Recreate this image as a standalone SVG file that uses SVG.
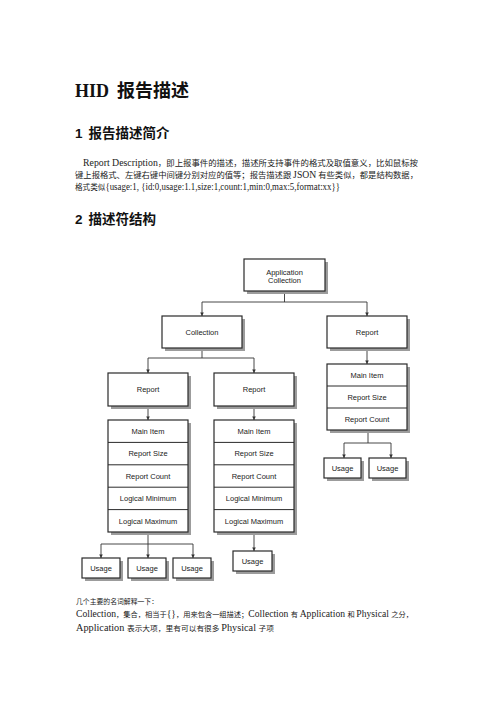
<svg xmlns="http://www.w3.org/2000/svg" width="496" height="702" viewBox="0 0 496 702">
<style>
.bg{fill:#ffffff}
.sh{fill:#9c9c9c}
.bx{fill:#ffffff;stroke:#2a2a2a;stroke-width:1.2}
.dv{stroke:#2a2a2a;stroke-width:1}
.lb{font-family:"Liberation Sans",Arial,sans-serif;font-size:7.5px;fill:#222;text-anchor:middle}
.cn{fill:none;stroke:#333;stroke-width:0.9}
.lat{font-family:"Liberation Serif","Times New Roman",serif}
.cjk{font-family:"Noto Sans CJK SC","Liberation Serif",serif}
.body{fill:#222}
.hd{font-family:"Liberation Sans","Noto Sans CJK SC",sans-serif;font-weight:bold;fill:#111}
</style>
<defs>
<marker id="ar" viewBox="0 0 6 6" refX="6" refY="3" markerWidth="4" markerHeight="4" orient="auto">
<path d="M0,0 L6,3 L0,6 z" fill="#333"/>
</marker>
</defs>
<rect class="bg" x="0" y="0" width="496" height="702"/>

<g id="title">
<text x="75" y="97" class="hd" font-size="18"><tspan class="lat" font-family="Liberation Serif,serif">HID</tspan><tspan font-family="Noto Sans CJK SC,sans-serif" dx="8">报告描述</tspan></text>
</g>
<g id="heading1">
<text x="75" y="137.5" class="hd" font-size="13.5"><tspan font-family="Liberation Sans,sans-serif">1</tspan><tspan font-family="Noto Sans CJK SC,sans-serif" dx="6">报告描述简介</tspan></text>
</g>
<g id="para1" class="body">
<text x="83" y="166" textLength="335" lengthAdjust="spacingAndGlyphs"><tspan class="lat" font-size="9.7">Report Description</tspan><tspan class="cjk" font-size="8.3">，即上报事件的描述，描述所支持事件的格式及取值意义，比如鼠标按</tspan></text>
<text x="75" y="178" textLength="343" lengthAdjust="spacingAndGlyphs"><tspan class="cjk" font-size="8.3">键上报格式、左键右键中间键分别对应的值等；报告描述跟 </tspan><tspan class="lat" font-size="9.7">JSON</tspan><tspan class="cjk" font-size="8.3"> 有些类似，都是结构数据，</tspan></text>
<text x="75" y="190" textLength="265" lengthAdjust="spacingAndGlyphs"><tspan class="cjk" font-size="8.3">格式类似</tspan><tspan class="lat" font-size="9.7">{usage:1, {id:0,usage:1.1,size:1,count:1,min:0,max:5,format:xx}}</tspan></text>
</g>
<g id="heading2">
<text x="75" y="224" class="hd" font-size="13.5"><tspan font-family="Liberation Sans,sans-serif">2</tspan><tspan font-family="Noto Sans CJK SC,sans-serif" dx="6">描述符结构</tspan></text>
</g>

<g id="connectors">
<path class="cn" d="M284.5,291 V302 M202,302 H367"/>
<path class="cn" d="M202,302 V316" marker-end="url(#ar)"/>
<path class="cn" d="M367,302 V316" marker-end="url(#ar)"/>
<path class="cn" d="M202,348 V358 M148,358 H254"/>
<path class="cn" d="M148,358 V373" marker-end="url(#ar)"/>
<path class="cn" d="M254,358 V373" marker-end="url(#ar)"/>
<path class="cn" d="M148,406 V420" marker-end="url(#ar)"/>
<path class="cn" d="M254,406 V420" marker-end="url(#ar)"/>
<path class="cn" d="M367,348 V364" marker-end="url(#ar)"/>
<path class="cn" d="M148,532 V544 M101,544 H193"/>
<path class="cn" d="M101,544 V558" marker-end="url(#ar)"/>
<path class="cn" d="M148,544 V558" marker-end="url(#ar)"/>
<path class="cn" d="M193,544 V558" marker-end="url(#ar)"/>
<path class="cn" d="M254,532 V551" marker-end="url(#ar)"/>
<path class="cn" d="M368,430 V443 M344,443 H391"/>
<path class="cn" d="M344,443 V458" marker-end="url(#ar)"/>
<path class="cn" d="M391,443 V458" marker-end="url(#ar)"/>
</g>

<g id="app-collection">
<rect class="sh" x="247" y="262" width="81" height="32"/>
<rect class="bx" x="244" y="259" width="81" height="32"/>
<text class="lb" x="284.5" y="274.5">Application</text>
<text class="lb" x="284.5" y="282.5">Collection</text>
</g>
<g id="collection">
<rect class="sh" x="165" y="319" width="80" height="32"/>
<rect class="bx" x="162" y="316" width="80" height="32"/>
<text class="lb" x="202" y="334.7">Collection</text>
</g>
<g id="report-right">
<rect class="sh" x="330" y="319" width="80" height="32"/>
<rect class="bx" x="327" y="316" width="80" height="32"/>
<text class="lb" x="367" y="334.7">Report</text>
</g>
<g id="report-left">
<rect class="sh" x="111" y="376" width="80" height="33"/>
<rect class="bx" x="108" y="373" width="80" height="33"/>
<text class="lb" x="148" y="392.2">Report</text>
</g>
<g id="report-mid">
<rect class="sh" x="217" y="376" width="80" height="33"/>
<rect class="bx" x="214" y="373" width="80" height="33"/>
<text class="lb" x="254" y="392.2">Report</text>
</g>

<g id="stack-left">
<rect class="sh" x="111" y="423" width="80" height="112"/>
<rect class="bx" x="108" y="420" width="80" height="112"/>
<path class="dv" d="M108,442.4 H188 M108,464.8 H188 M108,487.2 H188 M108,509.6 H188"/>
<text class="lb" x="148" y="433.9">Main Item</text>
<text class="lb" x="148" y="456.3">Report Size</text>
<text class="lb" x="148" y="478.7">Report Count</text>
<text class="lb" x="148" y="501.1">Logical Minimum</text>
<text class="lb" x="148" y="523.5">Logical Maximum</text>
</g>
<g id="stack-mid">
<rect class="sh" x="217" y="423" width="80" height="112"/>
<rect class="bx" x="214" y="420" width="80" height="112"/>
<path class="dv" d="M214,442.4 H294 M214,464.8 H294 M214,487.2 H294 M214,509.6 H294"/>
<text class="lb" x="254" y="433.9">Main Item</text>
<text class="lb" x="254" y="456.3">Report Size</text>
<text class="lb" x="254" y="478.7">Report Count</text>
<text class="lb" x="254" y="501.1">Logical Minimum</text>
<text class="lb" x="254" y="523.5">Logical Maximum</text>
</g>
<g id="stack-right">
<rect class="sh" x="330" y="367" width="80" height="66"/>
<rect class="bx" x="327" y="364" width="80" height="66"/>
<path class="dv" d="M327,386 H407 M327,408 H407"/>
<text class="lb" x="367" y="377.7">Main Item</text>
<text class="lb" x="367" y="399.7">Report Size</text>
<text class="lb" x="367" y="421.7">Report Count</text>
</g>

<g id="usage-1">
<rect class="sh" x="85" y="561" width="38" height="20"/>
<rect class="bx" x="82" y="558" width="38" height="20"/>
<text class="lb" x="101" y="570.7">Usage</text>
</g>
<g id="usage-2">
<rect class="sh" x="131" y="561" width="38" height="20"/>
<rect class="bx" x="128" y="558" width="38" height="20"/>
<text class="lb" x="147" y="570.7">Usage</text>
</g>
<g id="usage-3">
<rect class="sh" x="176" y="561" width="38" height="20"/>
<rect class="bx" x="173" y="558" width="38" height="20"/>
<text class="lb" x="192" y="570.7">Usage</text>
</g>
<g id="usage-4">
<rect class="sh" x="236" y="554" width="39" height="20"/>
<rect class="bx" x="233" y="551" width="39" height="20"/>
<text class="lb" x="252.5" y="563.7">Usage</text>
</g>
<g id="usage-5">
<rect class="sh" x="327" y="461" width="37" height="20"/>
<rect class="bx" x="324" y="458" width="37" height="20"/>
<text class="lb" x="342.5" y="470.7">Usage</text>
</g>
<g id="usage-6">
<rect class="sh" x="372" y="461" width="37" height="20"/>
<rect class="bx" x="369" y="458" width="37" height="20"/>
<text class="lb" x="387.5" y="470.7">Usage</text>
</g>

<g id="para2" class="body">
<text x="76" y="603.5" textLength="82" lengthAdjust="spacingAndGlyphs" class="cjk" font-size="7.3">几个主要的名词解释一下：</text>
<text x="76" y="616.5" textLength="337" lengthAdjust="spacingAndGlyphs"><tspan class="lat" font-size="9.7">Collection</tspan><tspan class="cjk" font-size="7.3">，集合，相当于</tspan><tspan class="lat" font-size="9.7">{}</tspan><tspan class="cjk" font-size="7.3">，用来包含一组描述；</tspan><tspan class="lat" font-size="9.7">Collection </tspan><tspan class="cjk" font-size="7.3">有 </tspan><tspan class="lat" font-size="9.7">Application </tspan><tspan class="cjk" font-size="7.3">和 </tspan><tspan class="lat" font-size="9.7">Physical </tspan><tspan class="cjk" font-size="7.3">之分，</tspan></text>
<text x="76" y="630.5" textLength="198" lengthAdjust="spacingAndGlyphs"><tspan class="lat" font-size="9.7">Application </tspan><tspan class="cjk" font-size="7.3">表示大项，里有可以有很多 </tspan><tspan class="lat" font-size="9.7">Physical </tspan><tspan class="cjk" font-size="7.3">子项</tspan></text>
</g>
</svg>
